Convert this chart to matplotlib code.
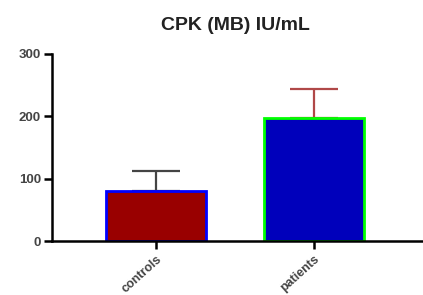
import matplotlib.pyplot as plt

groups = ["controls", "patients"]
means = [80, 197]
sems = [32, 47]
fills = ["#990000", "#0000bb"]
edges = ["#0000ff", "#00ff00"]
err_colors = ["#444444", "#b04848"]

plt.rcParams['font.family'] = ['Liberation Sans', 'DejaVu Sans']

fig = plt.figure(figsize=(4.23, 2.95), dpi=100)
ax = fig.add_axes([0.123, 0.183, 0.877, 0.634])

for i in range(len(groups)):
    ax.errorbar(i, means[i], yerr=[[0], [sems[i]]], color=err_colors[i],
                capsize=17, elinewidth=1.6, capthick=1.6, zorder=1)
    ax.bar(i, means[i], width=0.63, color=fills[i], edgecolor=edges[i],
           linewidth=2, zorder=2)

ax.set_xlim(-0.66, 1.69)
ax.set_ylim(0, 300)
ax.set_yticks([0, 100, 200, 300])
ax.set_xticks(range(len(groups)))
ax.set_xticklabels(groups, rotation=42, ha="right", rotation_mode="anchor",
                   fontsize=9, fontweight="bold", color="#444444")
for lab in ax.get_yticklabels():
    lab.set_fontsize(9.5)
    lab.set_fontweight("bold")
    lab.set_color("#444444")

ax.spines["top"].set_visible(False)
ax.spines["right"].set_visible(False)
ax.spines["left"].set_linewidth(1.8)
ax.spines["bottom"].set_linewidth(1.8)
ax.tick_params(width=1.8, length=6)
ax.tick_params(axis="y", pad=2)
ax.tick_params(axis="x", pad=3)

fig.text(0.557, 0.915, "CPK (MB) IU/mL", ha="center", va="center",
         fontsize=14, fontweight="bold", color="#222222")

fig.savefig("out.png", dpi=100)
